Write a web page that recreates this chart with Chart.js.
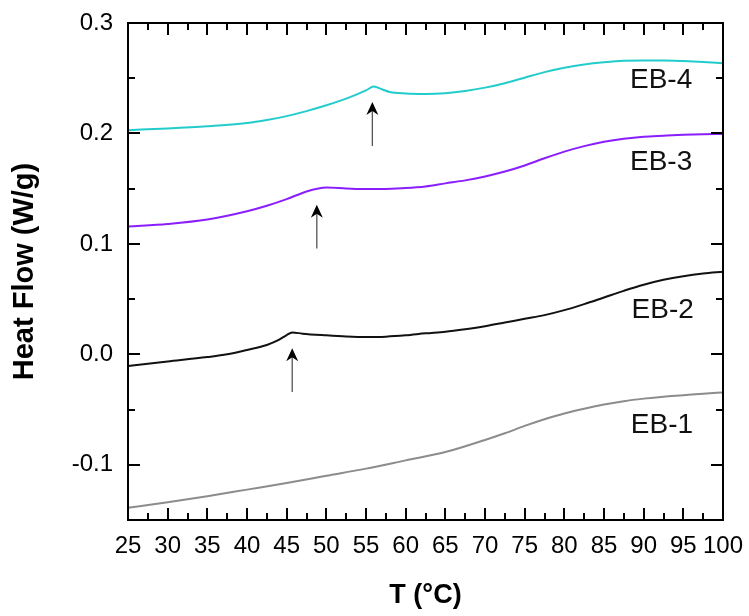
<!DOCTYPE html>
<html>
<head>
<meta charset="utf-8">
<script src="https://cdn.jsdelivr.net/npm/chart.js@4/dist/chart.umd.min.js"></script>
<style>
  html, body { margin: 0; padding: 0; background: #fff; }
  #wrap { width: 749px; height: 616px; }
</style>
</head>
<body>
<div id="wrap"><canvas id="c" width="749" height="616"></canvas></div>
<script>
// ---- data ----
const tEB4 = [25, 30, 35, 40, 42.5, 45, 47.5, 50, 52.5, 55, 56, 57, 58, 60, 62.5, 65, 67.5, 70, 72.5, 75, 77.5, 80, 82.5, 85, 87.5, 90, 92.5, 95, 97.5, 100];
const hfEB4 = [0.203, 0.2045, 0.2065, 0.2095, 0.2122, 0.2157, 0.2202, 0.2255, 0.2315, 0.239, 0.2425, 0.240, 0.2375, 0.2362, 0.2358, 0.2365, 0.2385, 0.2415, 0.2455, 0.2505, 0.2555, 0.2595, 0.2625, 0.2645, 0.2658, 0.266, 0.266, 0.2655, 0.2647, 0.2636];

const tEB3 = [25, 30, 35, 40, 42.5, 45, 47.5, 49, 50, 52.5, 55, 57.5, 60, 62.5, 65, 67.5, 70, 72.5, 75, 77.5, 80, 82.5, 85, 87.5, 90, 92.5, 95, 97.5, 100];
const hfEB3 = [0.1157, 0.118, 0.122, 0.1295, 0.1345, 0.1405, 0.1475, 0.1502, 0.151, 0.1502, 0.1496, 0.1498, 0.1505, 0.152, 0.1548, 0.1575, 0.161, 0.1655, 0.171, 0.1775, 0.1835, 0.1885, 0.1925, 0.1953, 0.1971, 0.198, 0.1988, 0.1993, 0.1996];

const tEB2 = [25, 30, 35, 37.5, 40, 42.5, 44, 45, 45.7, 47, 50, 52.5, 55, 57.5, 60, 62.5, 65, 67.5, 70, 72.5, 75, 77.5, 80, 82.5, 85, 87.5, 90, 92.5, 95, 97.5, 100];
const hfEB2 = [-0.0105, -0.0065, -0.0025, 0.0, 0.004, 0.0085, 0.013, 0.0175, 0.0198, 0.0187, 0.0172, 0.0162, 0.0157, 0.016, 0.0172, 0.019, 0.0205, 0.0228, 0.0255, 0.0288, 0.0322, 0.0355, 0.040, 0.0455, 0.0515, 0.0575, 0.063, 0.0675, 0.0708, 0.0732, 0.0748];

const tEB1 = [25, 30, 35, 40, 45, 50, 55, 60, 65, 70, 72.5, 75, 77.5, 80, 82.5, 85, 87.5, 90, 92.5, 95, 97.5, 100];
const hfEB1 = [-0.139, -0.134, -0.1285, -0.1225, -0.1165, -0.110, -0.1035, -0.096, -0.0885, -0.0775, -0.0715, -0.0648, -0.0588, -0.0535, -0.0492, -0.0455, -0.0424, -0.0401, -0.0383, -0.037, -0.0356, -0.0345];

// tick values / labels
const xMajorTicks = [25, 30, 35, 40, 45, 50, 55, 60, 65, 70, 75, 80, 85, 90, 95, 100];
const xMinorTicks = [27.5, 32.5, 37.5, 42.5, 47.5, 52.5, 57.5, 62.5, 67.5, 72.5, 77.5, 82.5, 87.5, 92.5, 97.5];
const yMajorTicks = [-0.1, 0.0, 0.1, 0.2, 0.3];
const yMinorTicks = [-0.15, -0.05, 0.05, 0.15, 0.25];
const yTickLabels = ["-0.1", "0.0", "0.1", "0.2", "0.3"];

// curve labels [text, T, value]
const curveLabels = [["EB-4", 92.2, 0.248], ["EB-3", 92.2, 0.174], ["EB-2", 92.4, 0.040], ["EB-1", 92.3, -0.0646]];
// arrows [T, tipValue, tailValue]
const arrows = [[55.8, 0.2285, 0.1886], [48.8, 0.1354, 0.0958], [45.7, 0.0054, -0.0342]];

const FONT = "'Liberation Sans', Arial, sans-serif";

function pts(t, v) { return t.map((x, i) => ({ x: x, y: v[i] })); }

const decorPlugin = {
  id: 'decor',
  afterDraw(chart) {
    const ctx = chart.ctx;
    const xs = chart.scales.x, ys = chart.scales.y;
    const a = chart.chartArea;
    ctx.save();
    // frame
    ctx.strokeStyle = '#000';
    ctx.lineWidth = 2;
    ctx.strokeRect(a.left, a.top, a.right - a.left, a.bottom - a.top);
    // ticks
    const major = 12, minor = 7;
    ctx.lineWidth = 2;
    ctx.beginPath();
    xMajorTicks.forEach(v => {
      const px = Math.round(xs.getPixelForValue(v));
      ctx.moveTo(px, a.bottom); ctx.lineTo(px, a.bottom - major);
      ctx.moveTo(px, a.top); ctx.lineTo(px, a.top + major);
    });
    xMinorTicks.forEach(v => {
      const px = Math.round(xs.getPixelForValue(v));
      ctx.moveTo(px, a.bottom); ctx.lineTo(px, a.bottom - minor);
      ctx.moveTo(px, a.top); ctx.lineTo(px, a.top + minor);
    });
    yMajorTicks.forEach(v => {
      const py = Math.round(ys.getPixelForValue(v));
      ctx.moveTo(a.left, py); ctx.lineTo(a.left + major, py);
      ctx.moveTo(a.right, py); ctx.lineTo(a.right - major, py);
    });
    yMinorTicks.forEach(v => {
      const py = Math.round(ys.getPixelForValue(v));
      ctx.moveTo(a.left, py); ctx.lineTo(a.left + minor, py);
      ctx.moveTo(a.right, py); ctx.lineTo(a.right - minor, py);
    });
    ctx.stroke();

    // arrows
    arrows.forEach(([t, tip, tail]) => {
      const px = xs.getPixelForValue(t);
      const pTip = ys.getPixelForValue(tip);
      const pTail = ys.getPixelForValue(tail);
      ctx.strokeStyle = '#555';
      ctx.lineWidth = 1.3;
      ctx.beginPath();
      ctx.moveTo(px, pTail); ctx.lineTo(px, pTip + 8);
      ctx.stroke();
      ctx.fillStyle = '#000';
      ctx.beginPath();
      ctx.moveTo(px, pTip);
      ctx.lineTo(px + 6, pTip + 13);
      ctx.lineTo(px, pTip + 9);
      ctx.lineTo(px - 6, pTip + 13);
      ctx.closePath();
      ctx.fill();
    });

    // curve labels
    ctx.fillStyle = '#111';
    ctx.font = '28px ' + FONT;
    ctx.textAlign = 'center';
    ctx.textBaseline = 'middle';
    curveLabels.forEach(([txt, t, v]) => {
      ctx.fillText(txt, xs.getPixelForValue(t), ys.getPixelForValue(v));
    });
    ctx.restore();
  }
};

const common = { pointRadius: 0, borderWidth: 2, fill: false, cubicInterpolationMode: 'monotone' };

new Chart(document.getElementById('c'), {
  type: 'line',
  data: {
    datasets: [
      Object.assign({ label: 'EB-1', data: pts(tEB1, hfEB1), borderColor: '#8c8c8c' }, common),
      Object.assign({ label: 'EB-2', data: pts(tEB2, hfEB2), borderColor: '#111111' }, common),
      Object.assign({ label: 'EB-3', data: pts(tEB3, hfEB3), borderColor: '#8a1eff' }, common),
      Object.assign({ label: 'EB-4', data: pts(tEB4, hfEB4), borderColor: '#22cccc' }, common)
    ]
  },
  options: {
    responsive: false,
    animation: false,
    layout: { padding: { top: 23, right: 26, left: 0, bottom: 0 } },
    plugins: { legend: { display: false }, tooltip: { enabled: false } },
    scales: {
      x: {
        type: 'linear',
        min: 25, max: 100,
        afterFit(s) { s.height = 96; s.paddingLeft = 0; s.paddingRight = 0; },
        afterBuildTicks(s) { s.ticks = xMajorTicks.map(v => ({ value: v })); },
        grid: { display: false, drawTicks: false },
        border: { display: false },
        ticks: { color: '#000', padding: 12, maxRotation: 0, autoSkip: false, font: { family: FONT, size: 24 },
                 callback: v => String(v) },
        title: { display: true, text: 'T (°C)', color: '#000', font: { family: FONT, size: 27, weight: 'bold' },
                 padding: { top: 0, bottom: 4 } }
      },
      y: {
        type: 'linear',
        min: -0.15, max: 0.3,
        afterFit(s) { s.width = 128; s.paddingTop = 0; s.paddingBottom = 0; },
        afterBuildTicks(s) { s.ticks = yMajorTicks.map(v => ({ value: v })); },
        grid: { display: false, drawTicks: false },
        border: { display: false },
        ticks: { color: '#000', padding: 15, autoSkip: false, font: { family: FONT, size: 24 },
                 callback: (v) => yTickLabels[yMajorTicks.findIndex(m => Math.abs(m - v) < 1e-9)] },
        title: { display: true, text: 'Heat Flow (W/g)', color: '#000', font: { family: FONT, size: 29, weight: 'bold' },
                 padding: { top: 8, bottom: 0 } }
      }
    }
  },
  plugins: [decorPlugin]
});
</script>
</body>
</html>
